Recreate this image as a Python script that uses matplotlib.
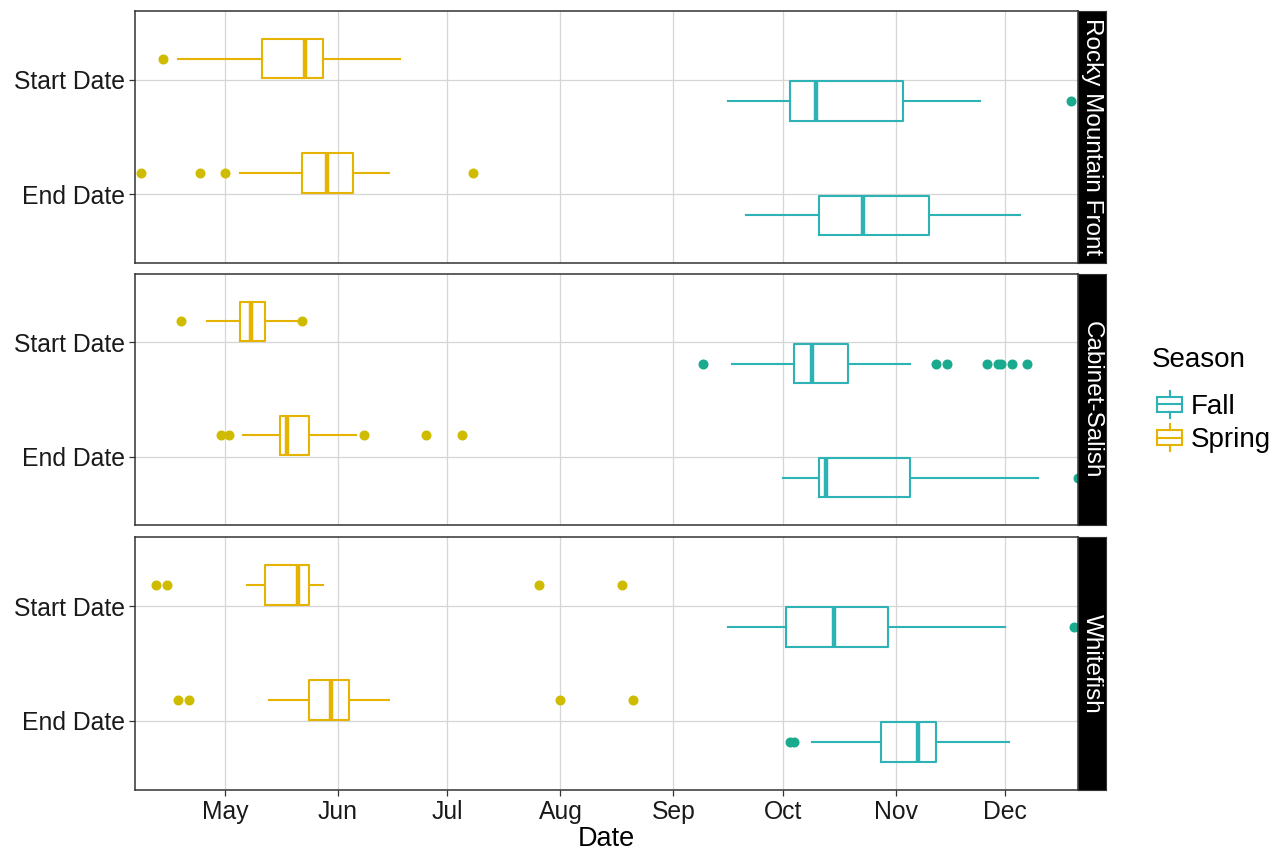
import matplotlib
matplotlib.use("Agg")
import matplotlib.pyplot as plt
import matplotlib.dates as mdates
from matplotlib.patches import Rectangle, Patch
from matplotlib.lines import Line2D
from matplotlib.legend_handler import HandlerBase
import numpy as np

plt.rcParams['font.family'] = ['Liberation Sans', 'DejaVu Sans']

# ---------------- data ----------------
facets = ["Rocky Mountain Front", "Cabinet-Salish", "Whitefish"]
variables = ["Start Date", "End Date"]
seasons = ["Fall", "Spring"]

box_facet = [0, 0, 0, 0, 1, 1, 1, 1, 2, 2, 2, 2]
box_variable = ["Start Date", "Start Date", "End Date", "End Date"] * 3
box_season = ["Spring", "Fall", "Spring", "Fall"] * 3

whisker_low = ["2021-04-18", "2021-09-16", "2021-05-05", "2021-09-21",
               "2021-04-26", "2021-09-17", "2021-05-06", "2021-10-01",
               "2021-05-07", "2021-09-16", "2021-05-13", "2021-10-09"]
quartile_1 = ["2021-05-11", "2021-10-03", "2021-05-22", "2021-10-11",
              "2021-05-05", "2021-10-04", "2021-05-16", "2021-10-11",
              "2021-05-12", "2021-10-02", "2021-05-24", "2021-10-28"]
median = ["2021-05-23", "2021-10-10", "2021-05-29", "2021-10-23",
          "2021-05-08", "2021-10-09", "2021-05-18", "2021-10-13",
          "2021-05-21", "2021-10-15", "2021-05-30", "2021-11-07"]
quartile_3 = ["2021-05-28", "2021-11-03", "2021-06-05", "2021-11-10",
              "2021-05-12", "2021-10-19", "2021-05-24", "2021-11-05",
              "2021-05-24", "2021-10-30", "2021-06-04", "2021-11-12"]
whisker_high = ["2021-06-18", "2021-11-24", "2021-06-15", "2021-12-05",
                "2021-05-22", "2021-11-05", "2021-06-06", "2021-12-10",
                "2021-05-28", "2021-12-01", "2021-06-15", "2021-12-02"]
outliers = [
    ["2021-04-14"],
    ["2021-12-19"],
    ["2021-04-08", "2021-04-24", "2021-05-01", "2021-07-08"],
    [],
    ["2021-04-19", "2021-05-22"],
    ["2021-09-09", "2021-11-12", "2021-11-15", "2021-11-26", "2021-11-29",
     "2021-11-30", "2021-12-03", "2021-12-07"],
    ["2021-04-30", "2021-05-02", "2021-06-08", "2021-06-25", "2021-07-05"],
    ["2021-12-21"],
    ["2021-04-12", "2021-04-15", "2021-07-26", "2021-08-18"],
    ["2021-12-20"],
    ["2021-04-18", "2021-04-21", "2021-08-01", "2021-08-21"],
    ["2021-10-03", "2021-10-04"],
]

x_limits = ["2021-04-06 07:00", "2021-12-21 00:00"]

# ---------------- style ----------------
box_colors = {"Fall": "#2DB3B5", "Spring": "#E5B300"}
point_colors = {"Fall": "#1AAA8E", "Spring": "#CFBC00"}
season_offset = {"Spring": 0.185, "Fall": -0.185}
var_pos = {"Start Date": 2, "End Date": 1}

W, H = 1288, 850
fig = plt.figure(figsize=(W / 100, H / 100), dpi=100)
panel_px = [(11, 263), (274, 525), (537, 790)]
left_px, right_px = 135, 1078
strip_w = 28
tick_fs = 17.8

d2n = mdates.datestr2num
xlim = (d2n(x_limits[0]), d2n(x_limits[1]))

for i, (top, bot) in enumerate(panel_px):
    ax = fig.add_axes([left_px / W, 1 - bot / H, (right_px - left_px) / W, (bot - top) / H])
    ax.set_axisbelow(True)
    for k in range(len(box_facet)):
        if box_facet[k] != i:
            continue
        s = box_season[k]
        c = box_colors[s]
        pc = point_colors[s]
        st = dict(whislo=d2n(whisker_low[k]), q1=d2n(quartile_1[k]), med=d2n(median[k]),
                  q3=d2n(quartile_3[k]), whishi=d2n(whisker_high[k]),
                  fliers=np.array([d2n(o) for o in outliers[k]]))
        ax.bxp([st], positions=[var_pos[box_variable[k]] + season_offset[s]], widths=0.345,
               orientation='horizontal', showcaps=False,
               boxprops=dict(color=c, linewidth=1.5),
               whiskerprops=dict(color=c, linewidth=1.5),
               medianprops=dict(color=c, linewidth=3.2, solid_capstyle='butt'),
               flierprops=dict(marker='o', markerfacecolor=pc, markeredgecolor=pc,
                               markersize=6.2, linestyle='none'))
    ax.set_xlim(*xlim)
    ax.set_ylim(0.4, 2.6)
    ax.set_yticks([var_pos[v] for v in variables])
    ax.set_yticklabels(variables, fontsize=tick_fs, color='#1a1a1a')
    ax.xaxis.set_major_locator(mdates.MonthLocator(bymonth=range(5, 13)))
    ax.xaxis.set_major_formatter(mdates.DateFormatter('%b'))
    ax.grid(True, color='#D6D6D6', linewidth=0.9)
    for sp in ax.spines.values():
        sp.set_color('#333333')
        sp.set_linewidth(1.1)
    ax.tick_params(axis='both', length=4, width=0.9, color='#333333', pad=3)
    if i < 2:
        ax.tick_params(axis='x', length=0, labelbottom=False)
    else:
        ax.tick_params(axis='x', labelsize=tick_fs, labelcolor='#1a1a1a')
        ax.set_xlabel("Date", fontsize=19.5, labelpad=2)

    sax = fig.add_axes([right_px / W, 1 - bot / H, strip_w / W, (bot - top) / H])
    sax.set_facecolor('black')
    sax.set_xticks([])
    sax.set_yticks([])
    for sp in sax.spines.values():
        sp.set_color('#333333')
    sax.text(0.5, 0.5, facets[i], rotation=-90, color='white', fontsize=17.5,
             ha='center', va='center', transform=sax.transAxes)


class BoxHandler(HandlerBase):
    def create_artists(self, legend, orig_handle, xdescent, ydescent, width, height,
                       fontsize, trans):
        c = orig_handle.get_edgecolor()
        x0, y0 = -xdescent, -ydescent
        bw, bh = width * 0.95, height * 0.62
        bx, by = x0 + (width - bw) / 2, y0 + (height - bh) / 2
        rect = Rectangle((bx, by), bw, bh, fill=False, edgecolor=c, linewidth=1.5,
                         transform=trans)
        med = Line2D([bx, bx + bw], [y0 + height / 2] * 2, color=c, linewidth=1.5,
                     transform=trans)
        wt = Line2D([x0 + width / 2] * 2, [by + bh, y0 + height * 1.05], color=c,
                    linewidth=1.5, transform=trans)
        wb = Line2D([x0 + width / 2] * 2, [y0 - height * 0.05, by], color=c,
                    linewidth=1.5, transform=trans)
        return [rect, med, wt, wb]


fig.text(1152 / W, 1 - 360 / H, "Season", fontsize=20, ha='left', va='center')
handles = [Patch(edgecolor=box_colors[s], facecolor='none') for s in seasons]
fig.legend(handles=handles, labels=seasons, loc='upper left',
           bbox_to_anchor=(1137 / W, 1 - 373 / H), frameon=False, fontsize=20,
           handler_map={Patch: BoxHandler()},
           handlelength=0.95, handleheight=0.95, handletextpad=0.3, labelspacing=0.2,
           borderpad=0.2)

fig.savefig("out.png", dpi=100, facecolor='white')
